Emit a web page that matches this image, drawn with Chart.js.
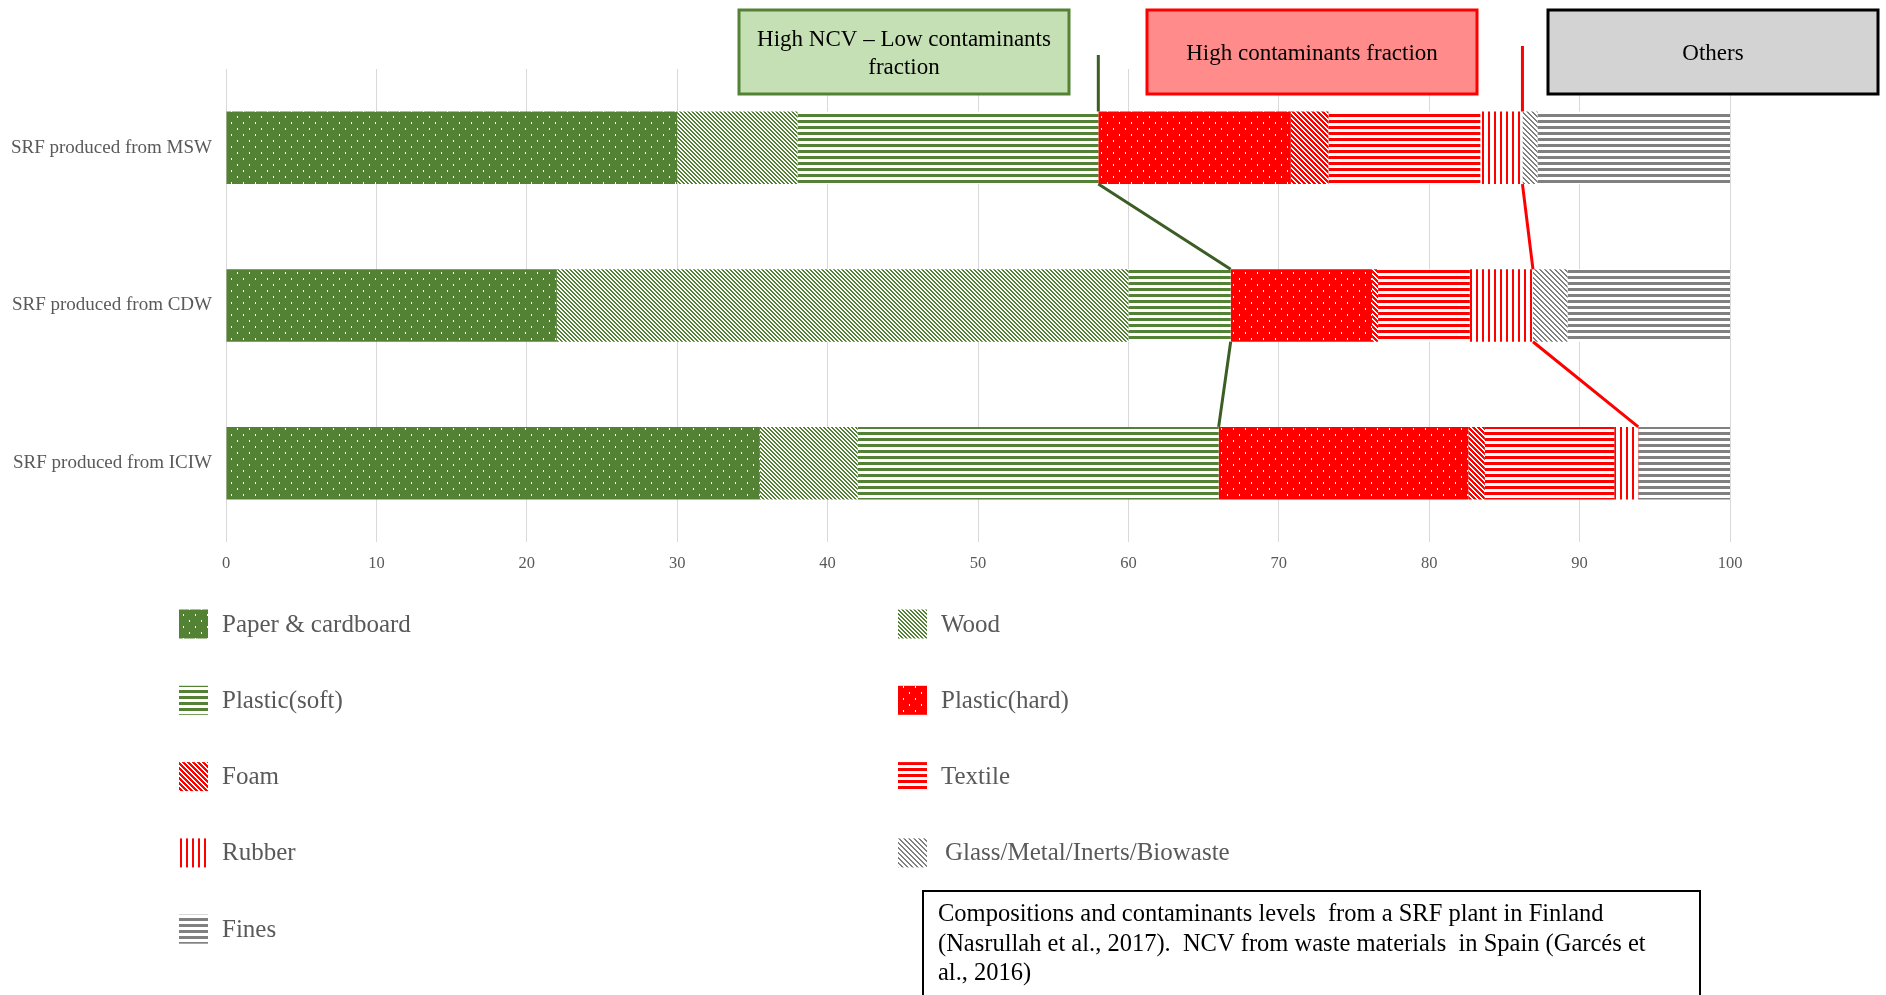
<!DOCTYPE html>
<html>
<head>
<meta charset="utf-8">
<script src="https://cdn.jsdelivr.net/npm/chart.js@4.4.1/dist/chart.umd.min.js"></script>
<style>
  html, body { margin: 0; padding: 0; background: #fff; }
  #wrap { position: relative; width: 1886px; height: 995px; }
</style>
</head>
<body>
<div id="wrap"><canvas id="chart"></canvas></div>
<script>
const categories = ['SRF produced from MSW', 'SRF produced from CDW', 'SRF produced from ICIW'];
const paperCardboard = [30, 22, 35.5];
const wood = [8, 38, 6.5];
const plasticSoft = [20, 6.8, 24];
const plasticHard = [12.8, 9.4, 16.6];
const foam = [2.5, 0.4, 1.1];
const textile = [10.1, 6.1, 8.6];
const rubber = [2.8, 4.2, 1.6];
const glassMetal = [1.0, 2.3, 0];
const fines = [12.8, 10.8, 6.1];
const xTickStep = 10;

const SERIF = "'Liberation Serif', 'Times New Roman', serif";
const GREEN = '#548235';
const RED = '#ff0000';
const GREY = '#808080';

const canvas = document.getElementById('chart');
const ctx = canvas.getContext('2d');

// small tiles for the Excel-like fill patterns
function makePattern(bg, fg, kind, size, w) {
    const tile = document.createElement('canvas');
    tile.width = size;
    tile.height = size;
    const g = tile.getContext('2d');
    g.fillStyle = bg;
    g.fillRect(0, 0, size, size);
    g.fillStyle = fg;
    if (kind === 'dots') {
        g.fillRect(3, 2, 1, 2);
        g.fillRect(9, 8, 1, 2);
    } else {
        for (let y = 0; y < size; y++) {
            for (let x = 0; x < size; x++) {
                let on = false;
                if (kind === 'h') on = y < w;
                if (kind === 'v') on = x < w;
                if (kind === 'diag') on = (((x - y) % size) + size) % size < w;
                if (on) g.fillRect(x, y, 1, 1);
            }
        }
    }
    return ctx.createPattern(tile, 'repeat');
}

const datasets = [
    { label: 'Paper & cardboard', data: paperCardboard, backgroundColor: makePattern(GREEN, '#ffffff', 'dots', 12) },
    { label: 'Wood', data: wood, backgroundColor: makePattern('#ffffff', GREEN, 'diag', 4, 2) },
    { label: 'Plastic(soft)', data: plasticSoft, backgroundColor: makePattern('#ffffff', GREEN, 'h', 6, 3) },
    { label: 'Plastic(hard)', data: plasticHard, backgroundColor: makePattern(RED, '#ffffff', 'dots', 12) },
    { label: 'Foam', data: foam, backgroundColor: makePattern('#ffffff', RED, 'diag', 5, 3) },
    { label: 'Textile', data: textile, backgroundColor: makePattern('#ffffff', RED, 'h', 6, 3) },
    { label: 'Rubber', data: rubber, backgroundColor: makePattern('#ffffff', RED, 'v', 6, 2) },
    { label: 'Glass/Metal/Inerts/Biowaste', data: glassMetal, backgroundColor: makePattern('#ffffff', GREY, 'diag', 5, 2) },
    { label: 'Fines', data: fines, backgroundColor: makePattern('#ffffff', GREY, 'h', 6, 3) },
];
datasets.forEach(d => {
    d.borderWidth = 0;
    d.barPercentage = 0.46;
    d.categoryPercentage = 1;
});

function drawConnector(chart, dsIndex, color, topY) {
    const bars = chart.getDatasetMeta(dsIndex).data;
    const c = chart.ctx;
    c.save();
    c.strokeStyle = color;
    c.lineWidth = 3;
    c.beginPath();
    c.moveTo(bars[0].x, topY);
    c.lineTo(bars[0].x, bars[0].y - bars[0].height / 2);
    for (let i = 0; i < bars.length - 1; i++) {
        c.moveTo(bars[i].x, bars[i].y + bars[i].height / 2);
        c.lineTo(bars[i + 1].x, bars[i + 1].y - bars[i + 1].height / 2);
    }
    c.stroke();
    c.restore();
}

function drawBox(c, x, y, w, h, fill, stroke, lines) {
    c.fillStyle = fill;
    c.fillRect(x, y, w, h);
    c.strokeStyle = stroke;
    c.lineWidth = 3;
    c.strokeRect(x, y, w, h);
    c.fillStyle = '#000';
    c.font = '23px ' + SERIF;
    c.textAlign = 'center';
    c.textBaseline = 'middle';
    const lh = 27.5;
    const y0 = y + h / 2 + 2 - (lines.length - 1) * lh / 2;
    lines.forEach((t, i) => c.fillText(t, x + w / 2, y0 + i * lh));
}

const overlay = {
    id: 'overlay',
    afterDatasetsDraw(chart) {
        drawConnector(chart, 2, '#3b5e24', 55);
        drawConnector(chart, 6, RED, 46);
    },
    afterDraw(chart) {
        const c = chart.ctx;
        c.save();
        drawBox(c, 739, 10, 330, 84, '#c5e0b4', GREEN, ['High NCV \u2013 Low contaminants', 'fraction']);
        drawBox(c, 1147, 10, 330, 84, '#ff8b8b', RED, ['High contaminants fraction']);
        drawBox(c, 1548, 10, 330, 84, '#d3d3d3', '#000000', ['Others']);

        // legend in two columns
        c.font = '25px ' + SERIF;
        c.textAlign = 'left';
        c.textBaseline = 'middle';
        chart.data.datasets.forEach((d, i) => {
            const col = i % 2;
            const row = Math.floor(i / 2);
            const x = col === 0 ? 179 : 898;
            const yc = 624 + row * 76.3;
            c.fillStyle = d.backgroundColor;
            c.fillRect(x, yc - 14.5, 29, 29);
            c.fillStyle = '#595959';
            c.fillText(d.label, x + 43 + (i === 7 ? 4 : 0), yc + 1);
        });

        // source note
        c.fillStyle = '#fff';
        c.fillRect(923, 891, 777, 110);
        c.strokeStyle = '#000';
        c.lineWidth = 2;
        c.strokeRect(923, 891, 777, 110);
        c.fillStyle = '#000';
        c.font = '24.5px ' + SERIF;
        ['Compositions and contaminants levels  from a SRF plant in Finland',
         '(Nasrullah et al., 2017).  NCV from waste materials  in Spain (Garc\u00e9s et',
         'al., 2016)'].forEach((t, i) => c.fillText(t, 938, 915 + i * 29.5));
        c.restore();
    }
};

new Chart(canvas, {
    type: 'bar',
    data: { labels: categories, datasets },
    options: {
        indexAxis: 'y',
        responsive: true,
        maintainAspectRatio: false,
        animation: false,
        layout: { padding: { top: 69, right: 156, bottom: 413, left: 0 } },
        plugins: {
            legend: { display: false },
            tooltip: { enabled: false },
        },
        scales: {
            x: {
                stacked: true,
                min: 0,
                max: 100,
                ticks: {
                    stepSize: xTickStep,
                    color: '#595959',
                    font: { family: SERIF, size: 16.5 },
                    padding: 12,
                },
                grid: { color: '#d9d9d9', drawTicks: false },
                border: { display: false },
                afterFit(scale) { scale.height = 40; },
            },
            y: {
                stacked: true,
                grid: { display: false },
                border: { display: false },
                ticks: {
                    color: '#595959',
                    font: { family: SERIF, size: 19 },
                    padding: 6,
                },
                afterFit(scale) { scale.width = 226; },
            },
        },
    },
    plugins: [overlay],
});
</script>
</body>
</html>
